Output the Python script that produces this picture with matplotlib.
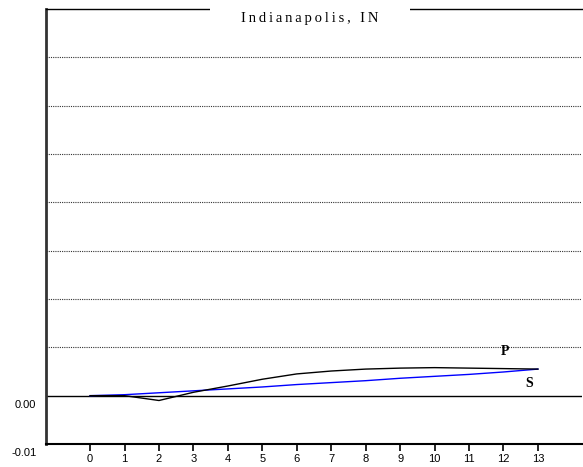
import numpy as np
import matplotlib.pyplot as plt
from matplotlib.transforms import ScaledTranslation

# values
years = list(range(14))
p_vals = [0.0, 0.0, -0.0010, 0.0007, 0.0020, 0.0034, 0.0045, 0.0051,
          0.0055, 0.0057, 0.0058, 0.0057, 0.0056, 0.0055]
s_vals = [0.0, 0.0002, 0.0006, 0.0010, 0.0014, 0.0018, 0.0023, 0.0027,
          0.0031, 0.0036, 0.0040, 0.0044, 0.0049, 0.0055]
grid_levels = [0.01, 0.02, 0.03, 0.04, 0.05, 0.06, 0.07]
ytick_vals = [-0.01, 0.00]
ytick_labels = ['-0.01', '0.00']
title = 'Indianapolis, IN'

fig = plt.figure(figsize=(5.83, 4.67), dpi=100)
ax = fig.add_axes([46 / 583, 1 - 444 / 467, 536 / 583, 435 / 467])

for g in grid_levels:
  ax.axhline(g, color='#333333', linestyle=(0, (1, 1)), linewidth=0.8, zorder=1)
ax.axhline(0, color='black', linewidth=1.0, zorder=2)

ax.plot(years, s_vals, color='blue', linewidth=1.0, zorder=3)
ax.plot(years, p_vals, color='black', linewidth=1.0, zorder=4)

ax.text(12.05, 0.0091, 'P', fontsize=10, fontweight='bold',
        family='Liberation Serif', ha='center', va='center')
ax.text(12.75, 0.0026, 'S', fontsize=10, fontweight='bold',
        family='Liberation Serif', ha='center', va='center')

ax.set_xlim(-1.28, 14.28)
ax.set_ylim(-0.01, 0.08)

ax.set_xticks(years)
ax.set_xticklabels([str(y) for y in years], family='Liberation Sans', fontsize=8)
ax.tick_params(axis='x', direction='out', length=5, width=1.2, pad=2)

ax.set_yticks(ytick_vals)
ax.set_yticklabels(ytick_labels, family='Liberation Sans', fontsize=8)
ax.tick_params(axis='y', length=0, pad=7)
shift = ScaledTranslation(0, -8 / 100, fig.dpi_scale_trans)
for lbl in ax.get_yticklabels():
  lbl.set_transform(lbl.get_transform() + shift)

ax.spines['right'].set_visible(False)
ax.spines['left'].set_linewidth(2.0)
ax.spines['left'].set_color('#333333')
ax.spines['bottom'].set_linewidth(1.5)
ax.spines['top'].set_linewidth(1.0)

spaced = '\u2009'.join(title)
ax.text((310 - 46) / 536, 1.0 - 10 / 435, spaced, transform=ax.transAxes,
        family='Liberation Serif', fontsize=10.5, ha='center', va='center',
        bbox=dict(facecolor='white', edgecolor='none', boxstyle='square,pad=0.0'),
        zorder=10)
# white patch that interrupts the top border behind the title
ax.add_patch(plt.Rectangle(((210 - 46) / 536, 0.97), 200 / 536, 0.05,
                           transform=ax.transAxes, facecolor='white',
                           edgecolor='none', clip_on=False, zorder=9))

fig.savefig('out.png', dpi=100)
